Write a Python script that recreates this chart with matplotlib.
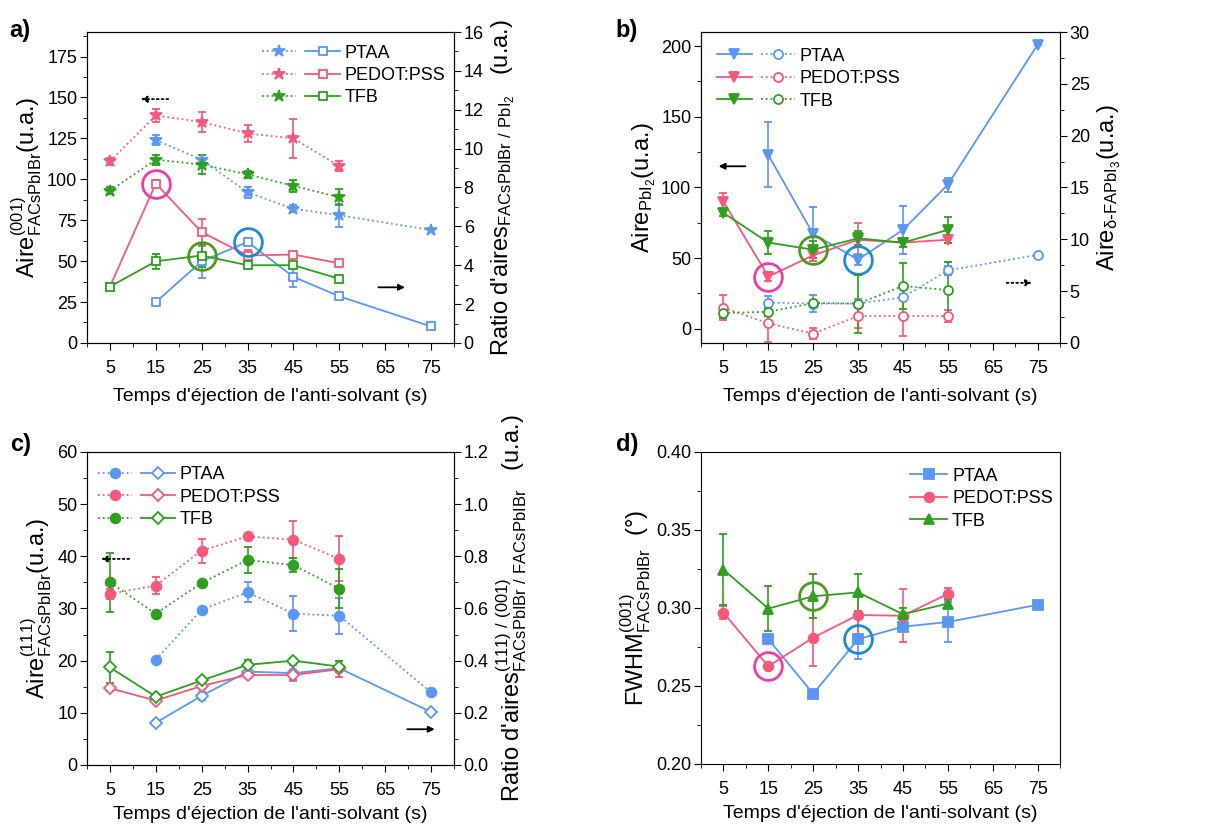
import numpy as np
import matplotlib
matplotlib.use('Agg')
import matplotlib.pyplot as plt
from matplotlib.legend_handler import HandlerTuple

plt.rcParams['font.family'] = ['Liberation Sans', 'DejaVu Sans']
plt.rcParams['mathtext.default'] = 'regular'

# ---- data ----
x6 = [5, 15, 25, 35, 45, 55]
x_ptaa = [15, 25, 35, 45, 55, 75]
labels = ['PTAA', 'PEDOT:PSS', 'TFB']

# a) Aire(001) (left) and ratio (001)/PbI2 (right)
a_aire_ptaa = [124, 112, 92, 82, 78, 69]
a_aire_ptaa_err = [3, 3, 3.5, 2, 7, 0]
a_aire_pedot = [111, 139, 135, 128, 125, 108]
a_aire_pedot_err = [2, 4, 6, 5, 12, 3]
a_aire_tfb = [93, 112, 109, 103, 96, 89]
a_aire_tfb_err = [2, 3, 6, 2, 3.5, 5]
a_ratio_ptaa = [2.1, 4.2, 5.2, 3.4, 2.4, 0.85]
a_ratio_ptaa_err = [0.1, 0.85, 0.15, 0.5, 0.15, 0]
a_ratio_pedot = [2.9, 8.2, 5.7, 4.5, 4.55, 4.1]
a_ratio_pedot_err = [0.1, 0.2, 0.7, 0.3, 0.2, 0.15]
a_ratio_tfb = [2.9, 4.2, 4.5, 4.0, 4.0, 3.3]
a_ratio_tfb_err = [0.05, 0.4, 0.6, 0.1, 0.1, 0.1]

# b) Aire PbI2 (left) and Aire delta-FAPbI3 (right)
b_pbi2_ptaa = [123, 67, 49, 70, 102, 201]
b_pbi2_ptaa_err = [23, 19, 4, 17, 5, 0]
b_pbi2_pedot = [90, 37, 52, 63, 61, 63]
b_pbi2_pedot_err = [6, 3, 4, 12, 3, 2]
b_pbi2_tfb = [82, 61, 56, 64, 61, 70]
b_pbi2_tfb_err = [2, 8, 6, 5, 3, 9]
b_delta_ptaa = [3.9, 3.8, 3.8, 4.4, 7.0, 8.5]
b_delta_ptaa_err = [0.6, 0.8, 0.4, 0.3, 0.4, 0]
b_delta_pedot = [3.4, 1.9, 0.9, 2.6, 2.6, 2.6]
b_delta_pedot_err = [1.2, 1.8, 0.5, 1.2, 1.9, 0.6]
b_delta_tfb = [2.9, 3.0, 3.85, 3.8, 5.5, 5.1]
b_delta_tfb_err = [0.5, 0.4, 0.2, 2.8, 2.2, 2.7]

# c) Aire(111) (left) and ratio (111)/(001) (right)
c_aire_ptaa = [20.2, 29.8, 33.1, 29, 28.6, 13.9]
c_aire_ptaa_err = [0.3, 0.5, 1.9, 3.3, 3.4, 0.3]
c_aire_pedot = [32.8, 34.4, 41.1, 43.8, 43.2, 39.5]
c_aire_pedot_err = [1, 1.6, 2.3, 0.3, 3.6, 4.3]
c_aire_tfb = [35, 29, 34.9, 39.3, 38.3, 33.8]
c_aire_tfb_err = [5.7, 0.3, 0.4, 2.5, 1.4, 3.8]
c_ratio_ptaa = [0.162, 0.265, 0.358, 0.352, 0.371, 0.203]
c_ratio_ptaa_err = [0.01, 0.015, 0.01, 0.03, 0.01, 0]
c_ratio_pedot = [0.294, 0.247, 0.303, 0.345, 0.345, 0.367]
c_ratio_pedot_err = [0.01, 0.01, 0.01, 0.01, 0.02, 0.03]
c_ratio_tfb = [0.374, 0.262, 0.324, 0.384, 0.40, 0.377]
c_ratio_tfb_err = [0.058, 0.01, 0.01, 0.02, 0.01, 0.02]

# d) FWHM(001)
d_ptaa = [0.280, 0.245, 0.280, 0.288, 0.291, 0.302]
d_ptaa_err = [0, 0, 0.013, 0.002, 0.013, 0]
d_pedot = [0.297, 0.2626, 0.281, 0.2955, 0.295, 0.309]
d_pedot_err = [0.004, 0.002, 0.018, 0.012, 0.017, 0.004]
d_tfb = [0.3246, 0.2996, 0.3075, 0.31, 0.296, 0.3028]
d_tfb_err = [0.023, 0.0144, 0.014, 0.012, 0.004, 0.003]

blue, pink, green = '#5A96F2', '#F4587A', '#2E9F1E'
hl_blue, hl_pink, hl_green = '#1F8AD6', '#EE3FA5', '#4E9A1E'
xlab = "Temps d'éjection de l'anti-solvant (s)"


def series(ax, x, y, err, color, marker, ls, filled=True, ms=7):
    fc = color if filled else 'white'
    h = ax.errorbar(x, y, yerr=err, color=color, ls=ls, lw=1.3, marker=marker, ms=ms,
                    mfc=fc, mec=color, mew=1.3, capsize=3, elinewidth=1.2, capthick=1.2)
    return h.lines[0]


def style_x(ax, pad=8):
    ax.set_xlim(0, 80)
    ax.set_xticks([5, 15, 25, 35, 45, 55, 65, 75])
    ax.set_xticks(range(0, 81, 10), minor=True)
    ax.set_xlabel(xlab, fontsize=14, labelpad=pad)


def style_ticks(ax):
    ax.tick_params(which='major', direction='out', length=5, labelsize=13, pad=2)
    ax.tick_params(which='minor', direction='out', length=3)
    ax.tick_params(axis='x', which='major', pad=7)


def highlight(ax, x, y, color):
    ax.plot([x], [y], 'o', ms=20, mfc='none', mec=color, mew=2, zorder=10)


def arrow(ax, tail, head, dotted):
    ax.annotate('', xy=head, xytext=tail,
                arrowprops=dict(arrowstyle='-|>', color='black', lw=1.3,
                                ls=':' if dotted else '-', mutation_scale=9))


def legend2(ax, hs, loc, anchor):
    ax.legend(hs, labels, handler_map={tuple: HandlerTuple(ndivide=None, pad=0.5)},
              handlelength=4.3, loc=loc, bbox_to_anchor=anchor,
              frameon=False, fontsize=13, labelspacing=0.3, handletextpad=0.25,
              borderaxespad=0.3)


fig = plt.figure(figsize=(12.12, 8.27), dpi=100)
axa = fig.add_axes([0.0718, 0.5853, 0.3028, 0.376])
axb = fig.add_axes([0.5784, 0.5853, 0.2962, 0.376])
axc = fig.add_axes([0.0718, 0.075, 0.3028, 0.3785])
axd = fig.add_axes([0.5784, 0.0762, 0.2962, 0.3773])

# ---- a ----
axa2 = axa.twinx()
hs = []
for x, y, e, yr, er, c in [(x_ptaa, a_aire_ptaa, a_aire_ptaa_err, a_ratio_ptaa, a_ratio_ptaa_err, blue),
                           (x6, a_aire_pedot, a_aire_pedot_err, a_ratio_pedot, a_ratio_pedot_err, pink),
                           (x6, a_aire_tfb, a_aire_tfb_err, a_ratio_tfb, a_ratio_tfb_err, green)]:
    l1 = series(axa, x, y, e, c, '*', ':', ms=9)
    l2 = series(axa2, x, yr, er, c, 's', '-', filled=False, ms=6)
    hs.append((l1, l2))
highlight(axa2, 15, a_ratio_pedot[1], hl_pink)
highlight(axa2, 25, a_ratio_tfb[2], hl_green)
highlight(axa2, 35, a_ratio_ptaa[2], hl_blue)
axa.set_ylim(0, 190)
axa.set_yticks(range(0, 176, 25))
axa.set_yticks(np.arange(0, 190, 12.5), minor=True)
axa2.set_ylim(0, 16)
axa2.set_yticks(range(0, 17, 2))
axa2.set_yticks(range(0, 17, 1), minor=True)
axa.set_ylabel(r'Aire$^{(001)}_{FACsPbIBr}$(u.a.)', fontsize=17, labelpad=2)
axa2.set_ylabel(r"Ratio d'aires$_{FACsPbIBr\ /\ PbI_2}$   (u.a.)", fontsize=17)
style_x(axa)
arrow(axa, (18.3, 149), (11.1, 149), True)
arrow(axa, (62.9, 34), (69.9, 34), False)
legend2(axa2, hs, 'upper right', (1.01, 1.0))

# ---- b ----
axb2 = axb.twinx()
hs = []
for x, y, e, yr, er, c in [(x_ptaa, b_pbi2_ptaa, b_pbi2_ptaa_err, b_delta_ptaa, b_delta_ptaa_err, blue),
                           (x6, b_pbi2_pedot, b_pbi2_pedot_err, b_delta_pedot, b_delta_pedot_err, pink),
                           (x6, b_pbi2_tfb, b_pbi2_tfb_err, b_delta_tfb, b_delta_tfb_err, green)]:
    l1 = series(axb, x, y, e, c, 'v', '-', ms=7)
    l2 = series(axb2, x, yr, er, c, 'o', ':', filled=False, ms=6.5)
    hs.append((l1, l2))
highlight(axb, 15, b_pbi2_pedot[1], hl_pink)
highlight(axb, 25, b_pbi2_tfb[2], hl_green)
highlight(axb, 35, b_pbi2_ptaa[2], hl_blue)
axb.set_ylim(-10, 210)
axb.set_yticks(range(0, 201, 50))
axb.set_yticks(range(0, 211, 25), minor=True)
axb2.set_ylim(0, 30)
axb2.set_yticks(range(0, 31, 5))
axb2.set_yticks(np.arange(0, 30.1, 2.5), minor=True)
axb.set_ylabel(r'Aire$_{PbI_2}$(u.a.)', fontsize=17, labelpad=2)
axb2.set_ylabel(r'Aire$_{\delta\text{-}FAPbI_3}$(u.a.)', fontsize=17)
style_x(axb)
arrow(axb, (10.5, 115), (3.3, 115), False)
arrow(axb2, (67.5, 5.8), (74.4, 5.8), True)
legend2(axb, hs, 'upper left', (0.01, 0.99))

# ---- c ----
axc2 = axc.twinx()
hs = []
for x, y, e, yr, er, c in [(x_ptaa, c_aire_ptaa, c_aire_ptaa_err, c_ratio_ptaa, c_ratio_ptaa_err, blue),
                           (x6, c_aire_pedot, c_aire_pedot_err, c_ratio_pedot, c_ratio_pedot_err, pink),
                           (x6, c_aire_tfb, c_aire_tfb_err, c_ratio_tfb, c_ratio_tfb_err, green)]:
    l1 = series(axc, x, y, e, c, 'o', ':', ms=7)
    l2 = series(axc2, x, yr, er, c, 'D', '-', filled=False, ms=6.5)
    hs.append((l1, l2))
axc.set_ylim(0, 60)
axc.set_yticks(range(0, 61, 10))
axc.set_yticks(range(0, 61, 5), minor=True)
axc2.set_ylim(0, 1.2)
axc2.set_yticks(np.arange(0, 1.21, 0.2))
axc2.set_yticks(np.arange(0, 1.21, 0.1), minor=True)
axc2.yaxis.set_major_formatter(matplotlib.ticker.FormatStrFormatter('%.1f'))
axc.set_ylabel(r'Aire$^{(111)}_{FACsPbIBr}$(u.a.)', fontsize=17, labelpad=2)
axc2.set_ylabel(r"Ratio d'aires$^{(111)\ /\ (001)}_{FACsPbIBr\ /\ FACsPbIBr}$   (u.a.)", fontsize=17)
style_x(axc, pad=5)
arrow(axc, (9.8, 39.5), (2.4, 39.5), True)
arrow(axc2, (69.2, 0.137), (76.4, 0.137), False)
legend2(axc, hs, 'upper left', (-0.005, 0.995))

# ---- d ----
hs = []
hs.append(series(axd, x_ptaa, d_ptaa, d_ptaa_err, blue, 's', '-', ms=7))
hs.append(series(axd, x6, d_pedot, d_pedot_err, pink, 'o', '-', ms=7))
hs.append(series(axd, x6, d_tfb, d_tfb_err, green, '^', '-', ms=7))
highlight(axd, 15, d_pedot[1], hl_pink)
highlight(axd, 25, d_tfb[2], hl_green)
highlight(axd, 35, d_ptaa[2], hl_blue)
axd.set_ylim(0.2, 0.4)
axd.set_yticks(np.arange(0.2, 0.401, 0.05))
axd.set_yticks(np.arange(0.2, 0.401, 0.025), minor=True)
axd.yaxis.set_major_formatter(matplotlib.ticker.FormatStrFormatter('%.2f'))
axd.set_ylabel(r'FWHM$^{(001)}_{FACsPbIBr}$  (°)', fontsize=17, labelpad=2)
style_x(axd, pad=5)
axd.legend(hs, labels, handlelength=2.0, loc='upper right', bbox_to_anchor=(1.015, 0.99),
           frameon=False, fontsize=13, labelspacing=0.3, handletextpad=0.3, borderaxespad=0.3)

for ax in [axa, axa2, axb, axb2, axc, axc2, axd]:
    style_ticks(ax)

for lab, (fx, fy) in zip(['a)', 'b)', 'c)', 'd)'],
                         [(0.008, 0.977), (0.508, 0.977), (0.008, 0.477), (0.508, 0.477)]):
    fig.text(fx, fy, lab, fontsize=17, fontweight='bold', va='top')

fig.savefig('out.png', dpi=100)
